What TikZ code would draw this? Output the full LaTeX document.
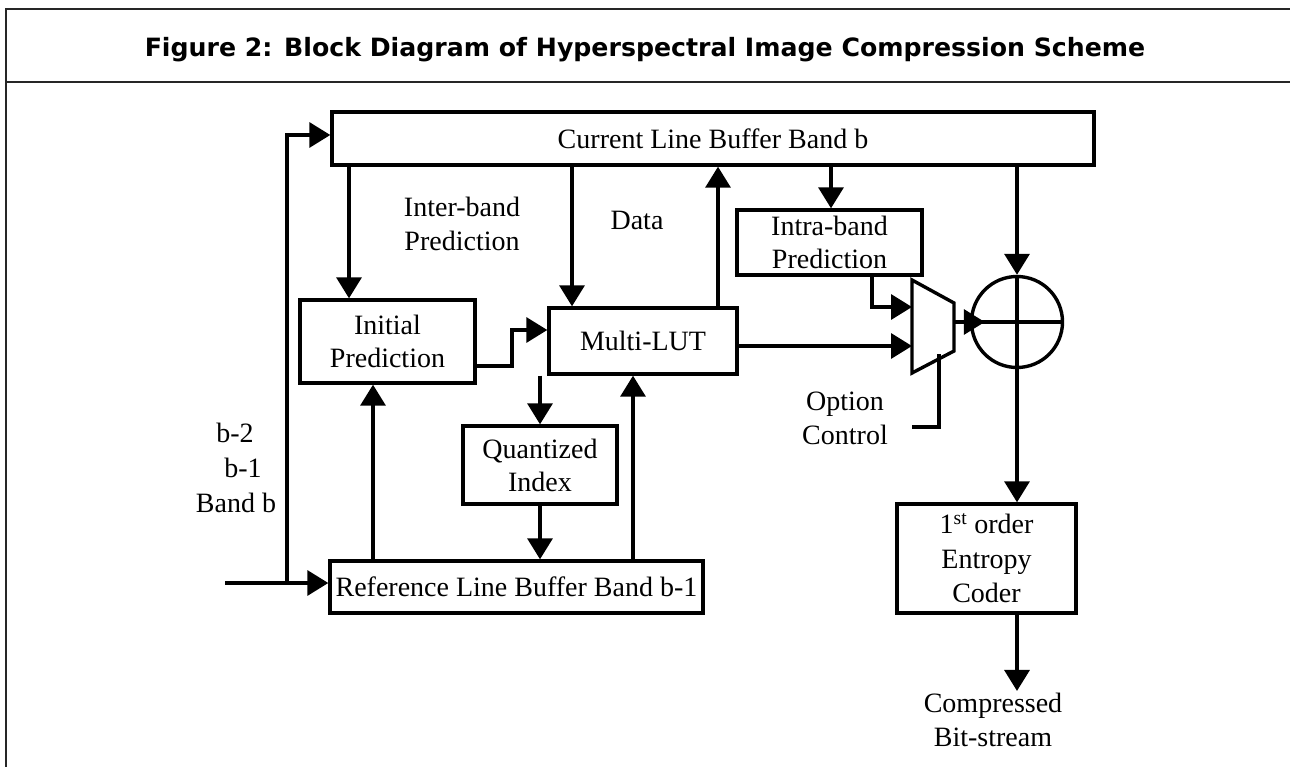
\documentclass[tikz,border=0pt]{standalone}
\usepackage{fontspec}
\setmainfont{Liberation Serif}
\newfontfamily\titlefont{DejaVu Sans}
\usetikzlibrary{arrows.meta}

\tikzset{
  wire/.style={line width=3.4pt, line join=miter},
  arr/.style={wire, -{Triangle[width=25pt,length=21pt]}},
  block/.style={draw, line width=3.4pt, inner sep=0pt, align=center,
    font=\fontsize{28}{33}\selectfont},
  lbl/.style={inner sep=0pt, align=center, font=\fontsize{28}{34}\selectfont},
  frame/.style={line width=2pt, draw=black!85}
}

\begin{document}
\begin{tikzpicture}[x=1pt, y=-1pt]
  \useasboundingbox (0,0) rectangle (1290,767);

  % outer frame and title strip
  \draw[frame] (1290,9) -- (6,9) -- (6,767);
  \draw[frame] (6,82) -- (1290,82);
  \node[inner sep=0pt, anchor=base, font=\titlefont\bfseries\fontsize{25.2}{29}\selectfont] (title) at (645,57)
    {Figure 2: Block Diagram of Hyperspectral Image Compression Scheme};

  % blocks
  \node[block, minimum width=762pt, minimum height=53pt] (cur) at (713,138.5) {Current Line Buffer Band b};
  \node[block, minimum width=175pt, minimum height=83pt] (init) at (387.5,341.5) {Initial\\Prediction};
  \node[block, minimum width=188pt, minimum height=66pt] (lut) at (643,341) {Multi-LUT};
  \node[block, minimum width=185pt, minimum height=65pt] (intra) at (829.5,242.5) {Intra-band\\Prediction};
  \node[block, minimum width=154pt, minimum height=78pt] (quant) at (540,465) {Quantized\\Index};
  \node[block, minimum width=373pt, minimum height=52pt] (ref) at (516.5,587) {Reference Line Buffer Band b-1};
  \node[block, minimum width=179pt, minimum height=109pt, font=\fontsize{28}{34.5}\selectfont] (ent) at (986.5,558.5)
    {1\textsuperscript{st} order\\Entropy\\Coder};

  % adder
  \node[draw, circle, line width=3.4pt, minimum size=91pt, inner sep=0pt] (sum) at (1017,322) {};
  \draw[wire] (sum.north) -- (sum.south);
  \draw[wire] (sum.west) -- (sum.east);

  % multiplexer
  \coordinate (mA) at (912,280);
  \coordinate (mB) at (954,303);
  \coordinate (mC) at (954,351);
  \coordinate (mD) at (912,373);
  \draw[wire] (mA) -- (mB) -- (mC) -- (mD) -- cycle;
  \coordinate (muxIn1) at (912,307);
  \coordinate (muxIn2) at (912,346);
  \coordinate (muxOut) at (954,322);
  \coordinate (muxSel) at (939,354);

  % free labels
  \node[lbl] (interlbl) at (462,224) {Inter-band\\Prediction};
  \node[lbl] (datalbl) at (637,220) {Data};
  \node[lbl] (optlbl) at (845,418) {Option\\Control};
  \node[lbl] (bm2) at (235,433) {b-2};
  \node[lbl] (bm1) at (243,468) {b-1};
  \node[lbl] (bandb) at (236,503) {Band b};
  \node[lbl, inner ysep=2pt] (outlbl) at (993,720) {Compressed\\Bit-stream};

  % column positions of vertical connectors
  \coordinate (cInit) at (349,0);
  \coordinate (cData) at (572,0);
  \coordinate (cUp) at (718,0);
  \coordinate (cIntra) at (831,0);
  \coordinate (cRefInit) at (373,0);
  \coordinate (cQ) at (540,0);
  \coordinate (cRefLut) at (633,0);

  % band input and feedback to the current line buffer
  \coordinate (inStart) at (225,583);
  \coordinate (inJoin) at (287,583);
  \coordinate (inTop) at (287,135);
  \draw[wire] (inStart) -- (inJoin);
  \draw[arr] (inJoin) -- (ref.west |- inJoin);
  \draw[arr] (inJoin) -- (inTop) -- (cur.west |- inTop);

  % current line buffer outputs
  \draw[arr] (cur.south -| cInit) -- (init.north -| cInit);
  \draw[arr] (cur.south -| cData) -- (lut.north -| cData);
  \draw[arr] (lut.north -| cUp) -- (cur.south -| cUp);
  \draw[arr] (cur.south -| cIntra) -- (intra.north -| cIntra);
  \draw[arr] (cur.south -| sum) -- (sum.north);

  % initial prediction to multi-LUT
  \coordinate (stepA) at (512,366);
  \coordinate (stepB) at (512,330);
  \draw[arr] (init.east |- stepA) -- (stepA) -- (stepB) -- (lut.west |- stepB);

  % multi-LUT, quantizer and reference buffer
  \draw[arr] (lut.south -| cQ) -- (quant.north);
  \draw[arr] (quant.south) -- (ref.north -| cQ);
  \draw[arr] (ref.north -| cRefInit) -- (init.south -| cRefInit);
  \draw[arr] (ref.north -| cRefLut) -- (lut.south -| cRefLut);

  % multiplexer inputs, select and output
  \coordinate (intraDrop) at (872,307);
  \draw[arr] (intra.south -| intraDrop) -- (intraDrop) -- (muxIn1);
  \draw[arr] (lut.east |- muxIn2) -- (muxIn2);
  \coordinate (selCorner) at (939,427);
  \coordinate (selEnd) at (912,427);
  \draw[wire] (muxSel) -- (selCorner) -- (selEnd);
  \draw[arr] (muxOut) -- ([xshift=15pt]sum.west);

  % adder to entropy coder to output
  \draw[arr] (sum.south) -- (ent.north -| sum);
  \draw[arr] (ent.south -| sum) -- (outlbl.north -| sum);
\end{tikzpicture}
\end{document}
